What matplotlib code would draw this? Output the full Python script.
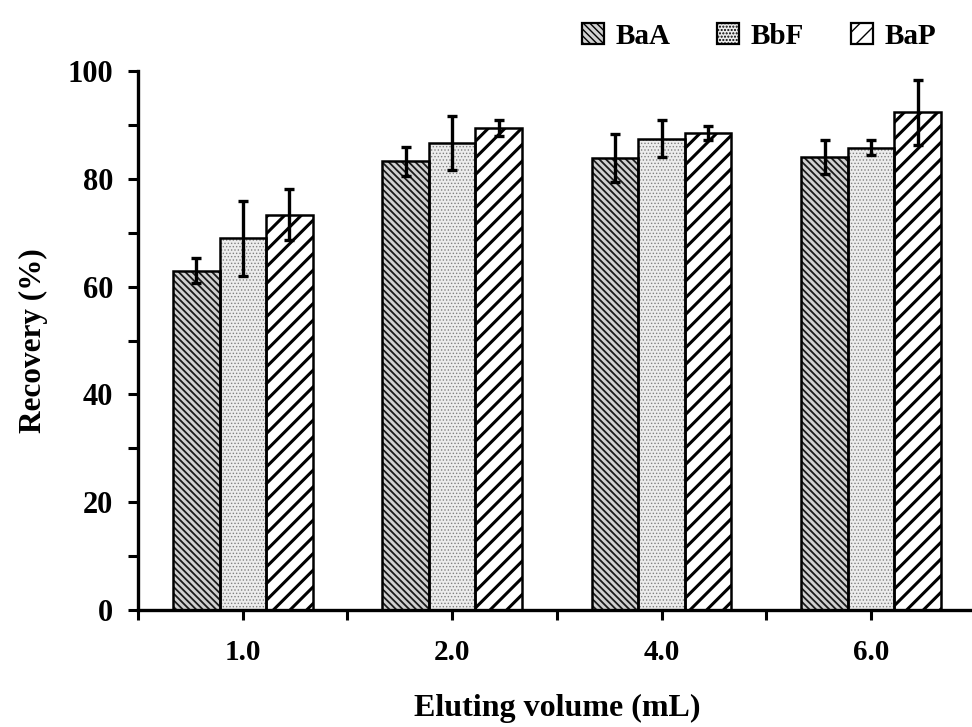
import matplotlib
matplotlib.use("Agg")
import matplotlib.pyplot as plt
import numpy as np
from matplotlib.patches import Patch

plt.rcParams['font.family'] = ['Liberation Serif', 'DejaVu Serif']
plt.rcParams['font.weight'] = 'bold'

categories = ["1.0", "2.0", "4.0", "6.0"]
series = ["BaA", "BbF", "BaP"]
baa = [63.0, 83.3, 83.9, 84.1]
baa_err = [2.4, 2.7, 4.4, 3.1]
bbf = [69.0, 86.6, 87.5, 85.8]
bbf_err = [7.0, 5.0, 3.4, 1.4]
bap = [73.4, 89.4, 88.5, 92.4]
bap_err = [4.8, 1.5, 1.3, 6.0]

styles = [
    dict(face="#d0d0d0", hatch="\\\\\\\\\\", hcolor="#1a1a1a", hlw=1.3),
    dict(face="#ececec", hatch=".....", hcolor="#808080", hlw=0.6),
    dict(face="white", hatch="//", hcolor="black", hlw=2.2),
]

fig = plt.figure(figsize=(9.72, 7.27), dpi=100)
ax = fig.add_axes([0.142, 0.161, 0.862, 0.741])

x = np.arange(len(categories))
w = 0.222
offsets = [-w, 0, w]
vals = [baa, bbf, bap]
errs = [baa_err, bbf_err, bap_err]

handles = []
for v, e, off, st, name in zip(vals, errs, offsets, styles, series):
    plt.rcParams['hatch.linewidth'] = st["hlw"]
    bars = ax.bar(x + off, v, w, color=st["face"], edgecolor=st["hcolor"],
                  hatch=st["hatch"], linewidth=0, zorder=2)
    for b in bars:
        try:
            b.set_hatch_linewidth(st["hlw"])
        except AttributeError:
            pass
    ax.bar(x + off, v, w, fill=False, edgecolor="black", linewidth=1.8, zorder=3)
    ax.errorbar(x + off, v, yerr=e, fmt="none", ecolor="black", elinewidth=2.4,
                capsize=3.5, capthick=2.4, zorder=4)
    hp = Patch(facecolor=st["face"], edgecolor="black", hatch=st["hatch"],
               linewidth=1.6, label=name)
    handles.append(hp)

ax.set_ylim(0, 100)
ax.set_xlim(-0.5, 3.5)
ax.set_yticks(np.arange(0, 101, 20))
ax.set_yticks(np.arange(10, 100, 20), minor=True)
ax.set_xticks(x)
ax.set_xticklabels(categories)
ax.set_xticks(np.arange(-0.5, 3.6, 1.0), minor=True)
ax.tick_params(axis="both", which="both", direction="out", length=7, width=2.2,
               labelsize=21)
ax.tick_params(axis="y", labelsize=22)
ax.tick_params(axis="x", which="major", pad=14)
ax.tick_params(axis="y", which="major", pad=11)
for lab in ax.get_xticklabels() + ax.get_yticklabels():
    lab.set_fontweight("bold")

for s in ["top", "right"]:
    ax.spines[s].set_visible(False)
for s in ["left", "bottom"]:
    ax.spines[s].set_linewidth(2.4)

ax.set_ylabel("Recovery (%)", fontsize=22.5, fontweight="bold", labelpad=14)
ax.set_xlabel("Eluting volume (mL)", fontsize=23, fontweight="bold", labelpad=20)

plt.rcParams['hatch.linewidth'] = 1.0
leg = fig.legend(handles=handles, loc="upper right", bbox_to_anchor=(0.99, 1.005),
                 ncol=3, frameon=False, fontsize=21, handlelength=0.75,
                 handleheight=0.75, handletextpad=0.4, columnspacing=1.6)
for t in leg.get_texts():
    t.set_fontweight("bold")

fig.savefig("out.png", dpi=100)
